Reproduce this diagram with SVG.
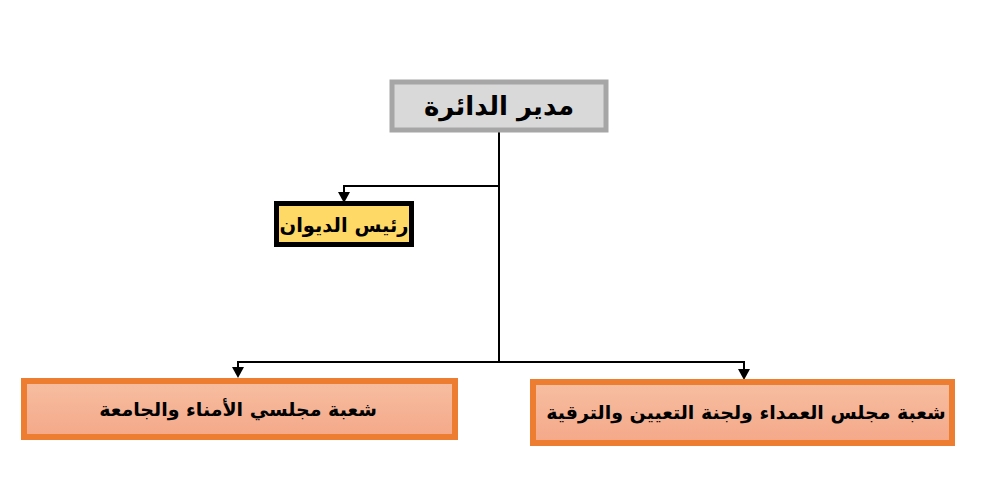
<svg xmlns="http://www.w3.org/2000/svg" width="987" height="500" viewBox="0 0 987 500">
<style>
.t{font-family:"DejaVu Sans",sans-serif;font-weight:bold;fill:#000;text-anchor:middle;direction:rtl}
.c{fill:none;stroke:#000;stroke-width:2}
</style>
<defs>
<linearGradient id="og" x1="0" y1="0" x2="0" y2="1">
<stop offset="0" stop-color="#F7BEA1"/>
<stop offset="1" stop-color="#F4A889"/>
</linearGradient>
</defs>
<rect width="987" height="500" fill="#fff"/>
<g id="connectors">
<polyline class="c" points="499,132 499,362"/>
<polyline class="c" points="499,186 344,186 344,193"/>
<path d="M338,192 L350,192 L344,203 Z"/>
<polyline class="c" points="499,362 238,362 238,368"/>
<path d="M232,367 L244,367 L238,378 Z"/>
<polyline class="c" points="499,362 744,362 744,370"/>
<path d="M738,369 L750,369 L744,380 Z"/>
</g>
<g id="n1">
<rect x="392" y="82" width="214" height="48" fill="#D9D9D9" stroke="#A6A6A6" stroke-width="5"/>
<text class="t" x="499" y="115" font-size="26">مدير الدائرة</text>
</g>
<g id="n2">
<rect x="276.5" y="203.5" width="135" height="41" fill="#FFD966" stroke="#000" stroke-width="5"/>
<text class="t" x="344" y="232" font-size="19.5">رئيس الديوان</text>
</g>
<g id="n3">
<rect x="24" y="381" width="431" height="56" fill="url(#og)" stroke="#ED7D31" stroke-width="6"/>
<text class="t" x="238" y="416" font-size="19">شعبة مجلسي الأمناء والجامعة</text>
</g>
<g id="n4">
<rect x="533" y="382" width="419" height="61" fill="url(#og)" stroke="#ED7D31" stroke-width="6"/>
<text class="t" x="746" y="419" font-size="19">شعبة مجلس العمداء ولجنة التعيين والترقية</text>
</g>
</svg>
